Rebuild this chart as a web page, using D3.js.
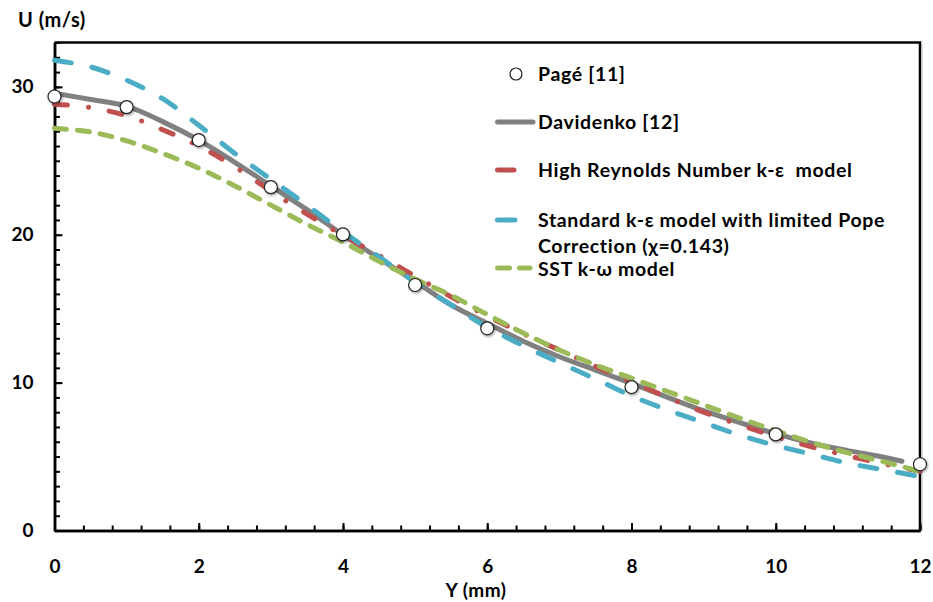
<!DOCTYPE html>
<html>
<head>
<meta charset="utf-8">
<script src="https://cdn.jsdelivr.net/npm/d3@7"></script>
<style>
  html, body { margin: 0; padding: 0; background: #fff; }
  svg { display: block; }
  text { font-family: Lato, "Open Sans", sans-serif; font-weight: bold; fill: #000; }
</style>
</head>
<body>
<svg id="chart" width="933" height="602"></svg>
<script>
// Measured profile (Pagé [11])
const pageY = [0, 1, 2, 3, 4, 5, 6, 8, 10, 12];
const pageU = [29.35, 28.63, 26.4, 23.22, 20.02, 16.6, 13.67, 9.7, 6.5, 4.48];

// Davidenko [12]
const davY = [0, 0.5, 1, 1.5, 2, 2.5, 3, 3.5, 4, 4.5, 5, 5.5, 6, 6.5, 7, 7.5, 8, 9, 10, 10.5, 11, 11.4, 11.75];
const davU = [29.57, 29.15, 28.7, 27.65, 26.4, 24.9, 23.3, 21.7, 20.0, 18.4, 16.85, 15.25, 14.0, 12.8, 11.75, 10.85, 9.95, 8.1, 6.55, 5.9, 5.4, 5.05, 4.68];

// Model curves share one abscissa grid
const modelY = [0, 0.5, 1, 1.5, 2, 2.5, 3, 3.5, 4, 4.5, 5, 5.5, 6, 6.5, 7, 7.5, 8, 8.5, 9, 9.5, 10, 10.5, 11, 11.5, 12];
const highReU = [28.83, 28.6, 28.05, 27.1, 26.0, 24.6, 22.95, 21.4, 19.95, 18.6, 17.2, 15.8, 14.5, 13.3, 12.2, 11.1, 10.05, 9.0, 8.0, 7.15, 6.35, 5.65, 5.05, 4.5, 4.0];
const popeU = [31.8, 31.35, 30.45, 29.2, 27.4, 25.5, 23.75, 22.0, 20.2, 18.5, 16.8, 15.25, 13.75, 12.5, 11.35, 10.25, 9.1, 8.15, 7.3, 6.45, 5.75, 5.15, 4.55, 4.1, 3.65];
const sstU = [27.2, 26.95, 26.35, 25.5, 24.5, 23.3, 22.0, 20.7, 19.5, 18.2, 17.0, 15.9, 14.6, 13.35, 12.2, 11.2, 10.3, 9.4, 8.5, 7.6, 6.75, 5.95, 5.25, 4.65, 4.0];

// Axis ticks
const xMajorTicks = [0, 2, 4, 6, 8, 10, 12];
const xMinorTicks = d3.range(0, 12.001, 0.4);
const yMajorTicks = [0, 10, 20, 30];
const yMinorTicks = d3.range(0, 33.001, 1);

// Legend entries
const legendLabels = ["Pagé [11]", "Davidenko [12]", "High Reynolds Number k-ε  model", "Standard k-ε model with limited Pope", "SST k-ω model"];
const legendExtra = "Correction (χ=0.143)";

const svg = d3.select("#chart");
const plotL = 54.5, plotR = 920, plotT = 42.5, plotB = 530.5;

const x = d3.scaleLinear().domain([0, 12]).range([plotL, plotR]);
const y = d3.scaleLinear().domain([0, 33]).range([plotB, plotT]);

// drop shadow for the measured points
const defs = svg.append("defs");
const f = defs.append("filter").attr("id", "shadow").attr("x", "-50%").attr("y", "-50%").attr("width", "200%").attr("height", "200%");
f.append("feDropShadow").attr("dx", 1).attr("dy", 1.5).attr("stdDeviation", 1).attr("flood-color", "#000").attr("flood-opacity", 0.35);

// Frame (top and right border)
svg.append("path")
  .attr("d", `M${plotL},${plotT}H${plotR}V${plotB}`)
  .attr("fill", "none").attr("stroke", "#000").attr("stroke-width", 2.5);
svg.append("line").attr("x1", plotR + 2).attr("x2", plotR + 2).attr("y1", plotT + 1).attr("y2", plotB)
  .attr("stroke", "#bbb").attr("stroke-width", 1);

// Axes
function styleAxis(g) {
  g.select(".domain").attr("stroke", "#000").attr("stroke-width", 2.5);
  g.selectAll(".tick line").attr("stroke", "#000").attr("stroke-width", 2);
  g.selectAll("text").attr("font-size", 19).attr("fill", "#000")
    .style("font-family", "Lato, sans-serif").style("font-weight", "bold");
}

svg.append("g").attr("transform", `translate(${plotL},0)`)
  .call(d3.axisLeft(y).tickValues(yMinorTicks).tickSize(-5.5).tickSizeOuter(0).tickFormat(""))
  .call(styleAxis);
svg.append("g").attr("transform", `translate(${plotL},0)`)
  .call(d3.axisLeft(y).tickValues(yMajorTicks).tickSize(-8).tickSizeOuter(0).tickPadding(21).tickFormat(d3.format("d")))
  .call(styleAxis);

svg.append("g").attr("transform", `translate(0,${plotB})`)
  .call(d3.axisBottom(x).tickValues(xMinorTicks).tickSize(-5).tickSizeOuter(0).tickFormat(""))
  .call(styleAxis);
svg.append("g").attr("transform", `translate(0,${plotB})`)
  .call(d3.axisBottom(x).tickValues(xMajorTicks).tickSize(-7.5).tickSizeOuter(0).tickPadding(29).tickFormat(d3.format("d")))
  .call(styleAxis);

// Axis titles
svg.append("text").attr("x", 18).attr("y", 27).attr("font-size", 20).attr("letter-spacing", 0.5).text("U (m/s)");
svg.append("text").attr("x", 476).attr("y", 597).attr("text-anchor", "middle").attr("font-size", 19)
  .attr("letter-spacing", 0.5).text("Y (mm)");

// Curves
const line = d3.line().x(d => x(d[0])).y(d => y(d[1])).curve(d3.curveCatmullRom.alpha(0.5));
const zip = (a, b) => a.map((v, i) => [v, b[i]]);

const series = [
  { pts: zip(davY, davU), color: "#808080", dash: null },
  { pts: zip(modelY, highReU), color: "#c0504d", dash: "13 21 0.1 21" },
  { pts: zip(modelY, popeU), color: "#4bacc6", dash: "17 21" },
  { pts: zip(modelY, sstU), color: "#9bbb59", dash: "12 11" }
];

svg.append("g").selectAll("path").data(series).join("path")
  .attr("d", d => line(d.pts))
  .attr("fill", "none")
  .attr("stroke", d => d.color)
  .attr("stroke-width", 5)
  .attr("stroke-linecap", "round")
  .attr("stroke-dasharray", d => d.dash);

// Measured points
svg.append("g").attr("filter", "url(#shadow)")
  .selectAll("circle").data(zip(pageY, pageU)).join("circle")
  .attr("cx", d => x(d[0])).attr("cy", d => y(d[1])).attr("r", 6.5)
  .attr("fill", "#fff").attr("stroke", "#222").attr("stroke-width", 1.2);

// Legend
const lg = svg.append("g");
const textX = 538;
const rowsY = [74, 122, 170, 220, 269];

lg.append("circle").attr("cx", 516).attr("cy", rowsY[0]).attr("r", 6)
  .attr("fill", "#fff").attr("stroke", "#222").attr("stroke-width", 1.2);
lg.append("line").attr("x1", 497.5).attr("x2", 533).attr("y1", rowsY[1]).attr("y2", rowsY[1])
  .attr("stroke", series[0].color).attr("stroke-width", 5).attr("stroke-linecap", "round");
lg.append("line").attr("x1", 497.5).attr("x2", 514).attr("y1", rowsY[2]).attr("y2", rowsY[2])
  .attr("stroke", series[1].color).attr("stroke-width", 5).attr("stroke-linecap", "round");
lg.append("line").attr("x1", 497.5).attr("x2", 515).attr("y1", rowsY[3]).attr("y2", rowsY[3])
  .attr("stroke", series[2].color).attr("stroke-width", 5).attr("stroke-linecap", "round");
lg.append("line").attr("x1", 497.5).attr("x2", 530).attr("y1", rowsY[4] - 1).attr("y2", rowsY[4] - 1)
  .attr("stroke", series[3].color).attr("stroke-width", 5).attr("stroke-linecap", "round")
  .attr("stroke-dasharray", "12 10");

lg.selectAll("text.lab").data(legendLabels).join("text").attr("class", "lab")
  .attr("x", textX).attr("y", (d, i) => rowsY[i]).attr("dy", "0.36em")
  .attr("font-size", 19.5).attr("letter-spacing", 0.65).style("white-space", "pre").text(d => d);
lg.append("text").attr("x", textX).attr("y", 246).attr("dy", "0.36em")
  .attr("font-size", 19.5).attr("letter-spacing", 0.65).text(legendExtra);
</script>
</body>
</html>
